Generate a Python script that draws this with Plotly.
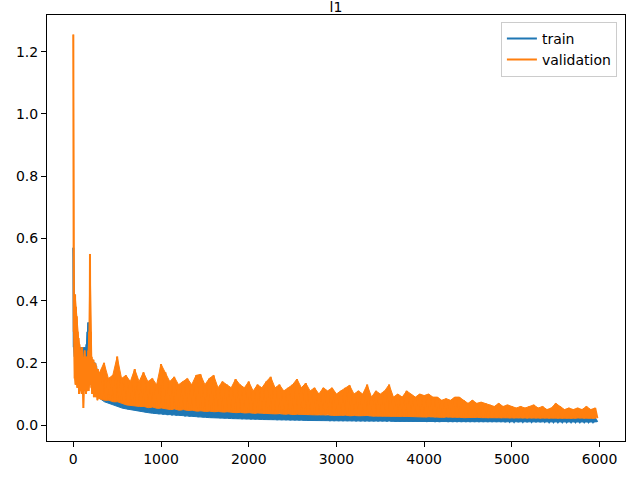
import plotly.graph_objects as go

early_steps = list(range(0, 300, 10))
late_steps = list(range(300, 6000, 50))

val_hi_early = [1.255, 0.40, 0.42, 0.38, 0.35, 0.30, 0.28, 0.26, 0.24, 0.22,
                0.25, 0.20, 0.22, 0.24, 0.20, 0.22, 0.19, 0.24, 0.30, 0.55,
                0.30, 0.22, 0.20, 0.21, 0.18, 0.20, 0.19, 0.17, 0.18, 0.16]
val_lo_early = [0.30, 0.15, 0.13, 0.14, 0.12, 0.13, 0.10, 0.12, 0.11, 0.10,
                0.11, 0.055, 0.12, 0.11, 0.10, 0.11, 0.12, 0.11, 0.13, 0.15,
                0.12, 0.10, 0.11, 0.09, 0.10, 0.09, 0.10, 0.08, 0.09, 0.085]
train_hi_early = [0.57, 0.42, 0.30, 0.29, 0.26, 0.25, 0.26, 0.25, 0.24, 0.25,
                  0.24, 0.25, 0.24, 0.25, 0.24, 0.26, 0.30, 0.33, 0.25, 0.23,
                  0.22, 0.21, 0.21, 0.20, 0.20, 0.20, 0.19, 0.18, 0.17, 0.16]
train_lo_early = [0.25, 0.22, 0.20, 0.20, 0.21, 0.20, 0.21, 0.20, 0.21, 0.20,
                  0.21, 0.20, 0.21, 0.20, 0.21, 0.20, 0.22, 0.20, 0.18, 0.16,
                  0.13, 0.125, 0.12, 0.115, 0.11, 0.10, 0.10, 0.095, 0.09, 0.09]

val_hi = [0.17, 0.20, 0.15, 0.16, 0.22, 0.15, 0.16, 0.14, 0.18, 0.14,
          0.17, 0.14, 0.15, 0.13, 0.196, 0.17, 0.14, 0.155, 0.13, 0.14,
          0.15, 0.13, 0.16, 0.163, 0.13, 0.15, 0.16, 0.12, 0.14, 0.13,
          0.12, 0.148, 0.13, 0.12, 0.14, 0.11, 0.13, 0.12, 0.14, 0.155,
          0.12, 0.13, 0.11, 0.12, 0.13, 0.148, 0.12, 0.135, 0.11, 0.12,
          0.10, 0.12, 0.11, 0.12, 0.10, 0.11, 0.12, 0.128, 0.10, 0.11,
          0.10, 0.13, 0.09, 0.11, 0.10, 0.11, 0.13, 0.09, 0.10, 0.09,
          0.11, 0.10, 0.09, 0.10, 0.095, 0.10, 0.09, 0.09, 0.08, 0.085,
          0.08, 0.09, 0.09, 0.08, 0.07, 0.08, 0.07, 0.074, 0.07, 0.065,
          0.06, 0.07, 0.06, 0.065, 0.06, 0.055, 0.06, 0.055, 0.06, 0.065,
          0.055, 0.06, 0.05, 0.055, 0.07, 0.06, 0.05, 0.055, 0.05, 0.055,
          0.05, 0.06, 0.05, 0.055]
val_lo = [0.085, 0.08, 0.08, 0.075, 0.075, 0.07, 0.065, 0.065, 0.062, 0.06,
          0.06, 0.056, 0.058, 0.054, 0.055, 0.052, 0.05, 0.052, 0.048, 0.05,
          0.047, 0.048, 0.045, 0.046, 0.044, 0.045, 0.043, 0.044, 0.042, 0.043,
          0.042, 0.04, 0.041, 0.039, 0.04, 0.038, 0.039, 0.037, 0.038, 0.037,
          0.036, 0.037, 0.035, 0.036, 0.034, 0.035, 0.036, 0.033, 0.034, 0.033,
          0.033, 0.032, 0.033, 0.031, 0.032, 0.031, 0.032, 0.03, 0.031, 0.03,
          0.03, 0.031, 0.029, 0.03, 0.029, 0.03, 0.028, 0.029, 0.028, 0.028,
          0.028, 0.027, 0.028, 0.027, 0.026, 0.027, 0.026, 0.026, 0.025, 0.026,
          0.025, 0.026, 0.025, 0.024, 0.025, 0.024, 0.025, 0.024, 0.023, 0.024,
          0.024, 0.023, 0.024, 0.023, 0.023, 0.024, 0.023, 0.022, 0.023, 0.023,
          0.022, 0.023, 0.022, 0.023, 0.022, 0.022, 0.023, 0.022, 0.022, 0.023,
          0.022, 0.023, 0.022, 0.022]

train_hi = [0.15, 0.13, 0.12, 0.11, 0.10, 0.09, 0.085, 0.08, 0.075, 0.07,
            0.068, 0.065, 0.06, 0.062, 0.058, 0.055, 0.057, 0.052, 0.05, 0.052,
            0.05, 0.048, 0.05, 0.046, 0.045, 0.047, 0.044, 0.045, 0.042, 0.043,
            0.042, 0.04, 0.041, 0.039, 0.04, 0.038, 0.039, 0.037, 0.038, 0.036,
            0.037, 0.035, 0.036, 0.034, 0.035, 0.036, 0.034, 0.033, 0.035, 0.033,
            0.032, 0.033, 0.031, 0.032, 0.03, 0.032, 0.031, 0.03, 0.031, 0.029,
            0.03, 0.029, 0.03, 0.028, 0.029, 0.028, 0.029, 0.027, 0.028, 0.027,
            0.028, 0.026, 0.027, 0.026, 0.027, 0.026, 0.025, 0.026, 0.025, 0.026,
            0.025, 0.026, 0.024, 0.025, 0.024, 0.025, 0.024, 0.023, 0.024, 0.023,
            0.024, 0.023, 0.024, 0.023, 0.022, 0.023, 0.022, 0.023, 0.022, 0.023,
            0.022, 0.023, 0.022, 0.021, 0.022, 0.021, 0.022, 0.021, 0.022, 0.021,
            0.022, 0.021, 0.022, 0.021]
train_lo = [0.085, 0.075, 0.07, 0.065, 0.06, 0.055, 0.052, 0.05, 0.047, 0.045,
            0.042, 0.04, 0.038, 0.036, 0.034, 0.033, 0.032, 0.031, 0.03, 0.029,
            0.028, 0.027, 0.026, 0.026, 0.025, 0.024, 0.024, 0.023, 0.022, 0.022,
            0.021, 0.021, 0.02, 0.02, 0.019, 0.019, 0.019, 0.018, 0.018, 0.018,
            0.017, 0.017, 0.017, 0.016, 0.016, 0.016, 0.016, 0.015, 0.015, 0.015,
            0.015, 0.015, 0.014, 0.014, 0.014, 0.014, 0.014, 0.014, 0.013, 0.013,
            0.013, 0.013, 0.013, 0.013, 0.013, 0.012, 0.013, 0.012, 0.012, 0.012,
            0.012, 0.012, 0.012, 0.012, 0.011, 0.012, 0.011, 0.011, 0.012, 0.011,
            0.011, 0.011, 0.011, 0.011, 0.011, 0.011, 0.011, 0.011, 0.011, 0.011,
            0.011, 0.011, 0.01, 0.011, 0.011, 0.01, 0.011, 0.01, 0.011, 0.01,
            0.01, 0.011, 0.01, 0.01, 0.01, 0.01, 0.01, 0.01, 0.01, 0.01,
            0.01, 0.01, 0.01, 0.01]


def zigzag(steps, hi, lo, half):
    # alternate upper and lower readings so the line fills its noise band
    xs, ys = [], []
    for s, h, l in zip(steps, hi, lo):
        xs += [s, s + half]
        ys += [h, l]
    return xs, ys


def band(steps, hi, lo, half):
    # closed outline: upper readings forward, lower readings back
    xs = list(steps) + [s + half for s in steps][::-1]
    ys = list(hi) + list(lo)[::-1]
    return xs, ys


series = [
    ("train", "#1f77b4", train_hi_early, train_lo_early, train_hi, train_lo),
    ("validation", "#ff7f0e", val_hi_early, val_lo_early, val_hi, val_lo),
]

fig = go.Figure()
for name, color, hi_e, lo_e, hi_l, lo_l in series:
    bx, by = band(early_steps + late_steps, hi_e + hi_l, lo_e + lo_l, 5)
    fig.add_trace(go.Scatter(x=bx, y=by, mode="lines", fill="toself",
                             fillcolor=color, line=dict(color=color, width=1),
                             showlegend=False, hoverinfo="skip"))
    x1, y1 = zigzag(early_steps, hi_e, lo_e, 5)
    x2, y2 = zigzag(late_steps, hi_l, lo_l, 25)
    fig.add_trace(go.Scatter(x=x1 + x2, y=y1 + y2, mode="lines", name=name,
                             line=dict(color=color, width=2)))

axis_style = dict(showgrid=False, zeroline=False, showline=True, mirror=True,
                  linecolor="black", linewidth=1, ticks="outside", ticklen=5,
                  tickcolor="black", automargin=False,
                  tickfont=dict(size=14, color="black"))

fig.update_layout(
    width=640, height=480,
    margin=dict(l=47, r=15, t=15, b=39),
    paper_bgcolor="white", plot_bgcolor="white",
    font=dict(family="DejaVu Sans", color="black"),
    title=dict(text="l1", x=(47 + 625) / 2 / 640, xanchor="center",
               yref="container", y=1 - 7 / 480, yanchor="middle", pad=dict(t=0),
               font=dict(size=14, color="black")),
    legend=dict(x=0.986, y=0.984, xanchor="right", yanchor="top",
                bgcolor="rgba(255,255,255,0.8)", bordercolor="#cccccc",
                borderwidth=1, font=dict(size=14)),
    xaxis=dict(range=[-300, 6290], dtick=1000, tickformat="d", **axis_style),
    yaxis=dict(range=[-0.051, 1.318], dtick=0.2, tickformat=".1f", **axis_style),
)

# drop the browser's default page margin so the figure sits at the corner
fig.write_html("out.html", config={"displayModeBar": False},
               post_script="document.body.style.margin = '0';")
